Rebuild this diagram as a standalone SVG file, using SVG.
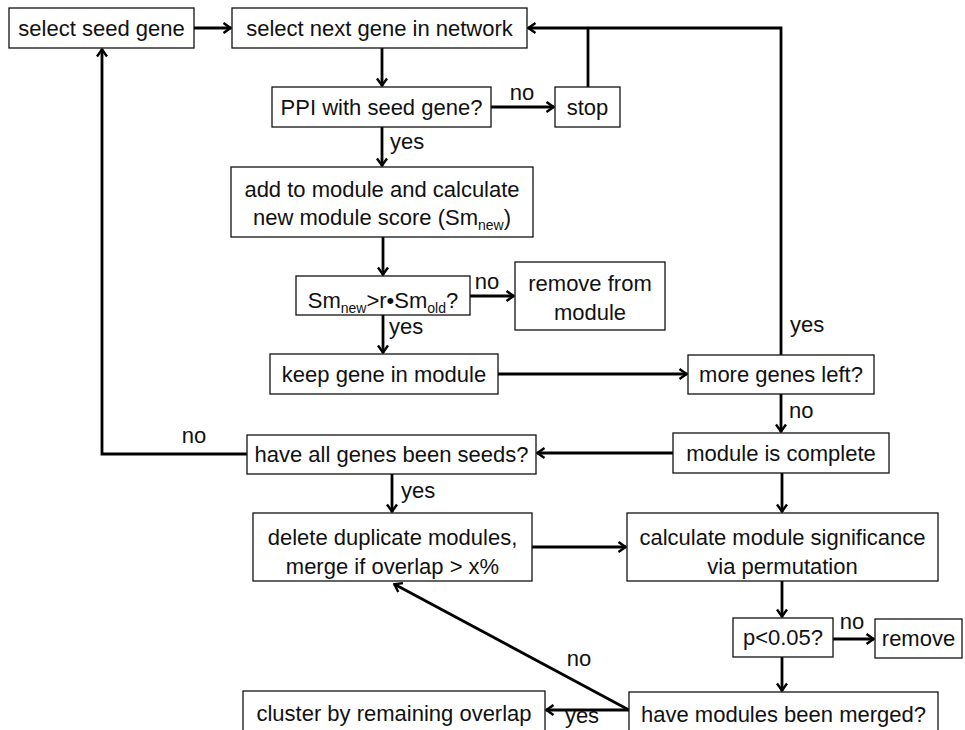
<svg xmlns="http://www.w3.org/2000/svg" width="965" height="730" viewBox="0 0 965 730">
<defs>
<style>
.box{fill:#fff;stroke:#111;stroke-width:1.3}
.t{font-family:"Liberation Sans",Arial,sans-serif;font-size:22px;fill:#111;text-anchor:middle}
.l{font-family:"Liberation Sans",Arial,sans-serif;font-size:22px;fill:#111}
.sub{font-size:14px}
.c{fill:none;stroke:#000;stroke-width:2.8}
</style>
<marker id="ah" markerUnits="userSpaceOnUse" viewBox="0 0 10 12" refX="9" refY="6" markerWidth="10" markerHeight="12" orient="auto">
<path d="M1.5,1 L8.5,6 L1.5,11" fill="none" stroke="#000" stroke-width="2.4"/>
</marker>
</defs>
<rect width="965" height="730" fill="#fff"/>
<g id="connectors">
<path class="c" d="M194,28 H231" marker-end="url(#ah)"/>
<path class="c" d="M382,48 V86" marker-end="url(#ah)"/>
<path class="c" d="M491,107 H554" marker-end="url(#ah)"/>
<path class="c" d="M588,87 V28"/>
<path class="c" d="M781,355 V28 H528" marker-end="url(#ah)"/>
<path class="c" d="M382,127 V166" marker-end="url(#ah)"/>
<path class="c" d="M383,237 V275" marker-end="url(#ah)"/>
<path class="c" d="M470,296 H514" marker-end="url(#ah)"/>
<path class="c" d="M383,315 V353" marker-end="url(#ah)"/>
<path class="c" d="M498,374 H687" marker-end="url(#ah)"/>
<path class="c" d="M781,394 V432" marker-end="url(#ah)"/>
<path class="c" d="M673,453 H537" marker-end="url(#ah)"/>
<path class="c" d="M247,454 H102 V49" marker-end="url(#ah)"/>
<path class="c" d="M392,474 V512" marker-end="url(#ah)"/>
<path class="c" d="M532,547 H626" marker-end="url(#ah)"/>
<path class="c" d="M782,473 V512" marker-end="url(#ah)"/>
<path class="c" d="M782,581 V617" marker-end="url(#ah)"/>
<path class="c" d="M833,639 H874" marker-end="url(#ah)"/>
<path class="c" d="M782,657 V691" marker-end="url(#ah)"/>
<path class="c" d="M629,710 H546" marker-end="url(#ah)"/>
<path class="c" d="M629,710 L394,584" marker-end="url(#ah)"/>
<text class="t" x="522" y="100">no</text>
<text class="l" x="790" y="332">yes</text>
<text class="l" x="390" y="149">yes</text>
<text class="t" x="487" y="289">no</text>
<text class="l" x="389" y="334">yes</text>
<text class="l" x="789" y="418">no</text>
<text class="t" x="194" y="443">no</text>
<text class="l" x="401" y="498">yes</text>
<text class="t" x="852" y="629">no</text>
<text class="t" x="582" y="723">yes</text>
<text class="t" x="579" y="666">no</text>
</g>
<g id="select-seed"><rect class="box" x="9" y="8" width="185" height="40"/><text class="t" x="101.5" y="35.5">select seed gene</text></g>
<g id="select-next"><rect class="box" x="232" y="8" width="295" height="40"/><text class="t" x="379.5" y="35.5">select next gene in network</text></g>
<g id="ppi"><rect class="box" x="272" y="87" width="219" height="40"/><text class="t" x="381.5" y="114.5">PPI with seed gene?</text></g>
<g id="stop"><rect class="box" x="555" y="87" width="65" height="40"/><text class="t" x="587.5" y="114.5">stop</text></g>
<g id="add"><rect class="box" x="231" y="167" width="302" height="70"/><text class="t" x="382" y="196.5">add to module and calculate</text><text class="t" x="382" y="224.5">new module score (Sm<tspan class="sub" dy="5">new</tspan><tspan dy="-5">)</tspan></text></g>
<g id="compare"><rect class="box" x="296" y="276" width="174" height="39"/><text class="t" x="383" y="307.5">Sm<tspan class="sub" dy="5">new</tspan><tspan dy="-5">&gt;r•Sm</tspan><tspan class="sub" dy="5">old</tspan><tspan dy="-5">?</tspan></text></g>
<g id="remove-from-module"><rect class="box" x="515" y="262" width="150" height="68"/><text class="t" x="590" y="290.5">remove from</text><text class="t" x="590" y="319.5">module</text></g>
<g id="keep"><rect class="box" x="270" y="354" width="228" height="40"/><text class="t" x="384" y="381.5">keep gene in module</text></g>
<g id="more"><rect class="box" x="688" y="355" width="186" height="39"/><text class="t" x="781" y="381.5">more genes left?</text></g>
<g id="complete"><rect class="box" x="673" y="433" width="216" height="40"/><text class="t" x="781" y="460.5">module is complete</text></g>
<g id="all-seeds"><rect class="box" x="247" y="435" width="289" height="39"/><text class="t" x="391.5" y="462">have all genes been seeds?</text></g>
<g id="delete"><rect class="box" x="253" y="513" width="279" height="68"/><text class="t" x="392.5" y="544.5">delete duplicate modules,</text><text class="t" x="392.5" y="573.5">merge if overlap &gt; x%</text></g>
<g id="calc"><rect class="box" x="627" y="513" width="311" height="68"/><text class="t" x="782.5" y="544.5">calculate module significance</text><text class="t" x="782.5" y="573.5">via permutation</text></g>
<g id="pval"><rect class="box" x="733" y="618" width="100" height="39"/><text class="t" x="783" y="645">p&lt;0.05?</text></g>
<g id="remove"><rect class="box" x="875" y="619" width="87" height="39"/><text class="t" x="918.5" y="646">remove</text></g>
<g id="merged"><rect class="box" x="629" y="692" width="309" height="44"/><text class="t" x="783.5" y="722">have modules been merged?</text></g>
<g id="cluster"><rect class="box" x="243" y="691" width="302" height="44"/><text class="t" x="394" y="721">cluster by remaining overlap</text></g>
</svg>
